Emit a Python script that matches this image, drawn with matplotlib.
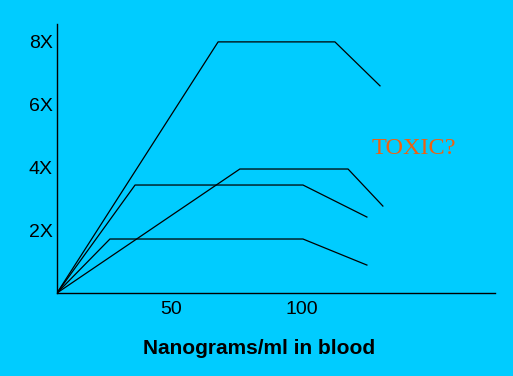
import matplotlib
matplotlib.use("Agg")
import matplotlib.pyplot as plt

# curves: x in ng/ml, y as multiple of baseline
x_top = [6.5, 68, 112.6, 129.8]
y_top = [0, 8, 8, 6.6]
x_mid = [6.5, 76.3, 117.6, 130.9]
y_mid = [0, 3.95, 3.95, 2.77]
x_low = [6.5, 36.3, 100.4, 124.8]
y_low = [0, 3.44, 3.44, 2.42]
x_bot = [6.5, 26.7, 100.4, 124.8]
y_bot = [0, 1.72, 1.72, 0.89]

xticks = [50, 100]
yticks = [2, 4, 6, 8]
ylabels = ["2X", "4X", "6X", "8X"]

bg = "#00CCFF"
fig = plt.figure(figsize=(5.13, 3.76), dpi=100, facecolor=bg)
ax = fig.add_axes([57/513, 1-293/376, (495-57)/513, (293-24)/376])
ax.set_facecolor(bg)

for xs, ys in [(x_top, y_top), (x_mid, y_mid), (x_low, y_low), (x_bot, y_bot)]:
    ax.plot(xs, ys, color="black", lw=0.9)

ax.set_xlim(6.5, 173.7)
ax.set_ylim(0, 8.57)
for s in ["top", "right"]:
    ax.spines[s].set_visible(False)
ax.spines["left"].set_linewidth(1.0)
ax.spines["bottom"].set_linewidth(1.0)

ax.set_xticks(xticks)
ax.set_xticklabels([str(t) for t in xticks], fontsize=14, family="Liberation Sans")
ax.set_yticks(yticks)
ax.set_yticklabels(ylabels, fontsize=14, family="Liberation Sans")
ax.tick_params(length=0)
ax.tick_params(axis="x", pad=6)
ax.tick_params(axis="y", pad=3)

ax.text(126.7, 4.6, "TOXIC?", color="#F06010", fontsize=17.5,
        family="Liberation Serif", va="center", ha="left")

fig.text(259/513, 1-348/376, "Nanograms/ml in blood", fontsize=15,
         fontweight="bold", family="Liberation Sans", ha="center", va="center")

fig.savefig("out.png", dpi=100, facecolor=bg)
